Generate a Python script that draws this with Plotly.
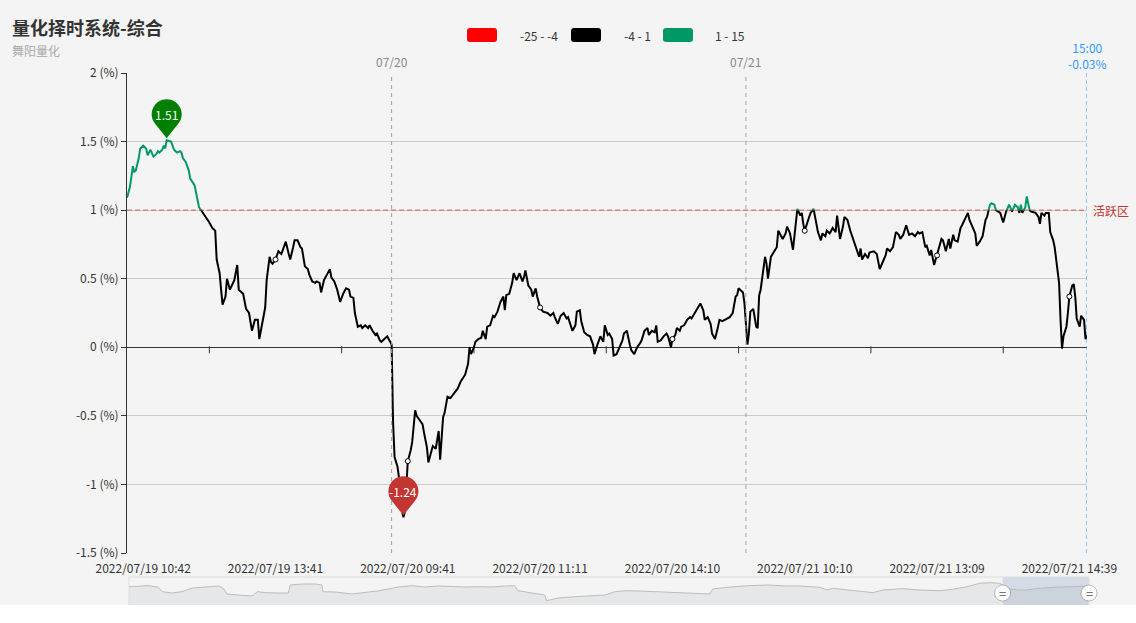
import numpy as np
import plotly.graph_objects as go

# canvas and plot box, in px
W, H = 1136, 623
L, R, T, B = 127, 1087, 73, 553
SL, SR, ST, SB = 129, 1089, 577, 607   # dataZoom slider box

title = "量化择时系统-综合"
subtitle = "舞阳量化"

days = ["2022/07/19", "2022/07/20", "2022/07/21"]
first_bar = "10:31"
last_bar = "14:51"

# score (%) per minute bar
d1_t = ["10:31", "10:33", "10:35", "10:36", "10:37", "10:39", "10:40", "10:42", "10:44", "10:45",
        "10:47", "10:49", "10:51", "10:52", "10:53", "10:55", "10:56", "10:57", "10:58", "11:01",
        "11:03", "11:05", "11:07", "11:08", "11:09", "11:11", "11:13", "11:14", "11:17", "11:18",
        "11:20", "11:22", "11:24", "11:26", "11:27", "11:29", "13:00", "13:01", "13:03", "13:04",
        "13:05", "13:07", "13:08", "13:10", "13:12", "13:13", "13:15", "13:16", "13:19", "13:21",
        "13:23", "13:25", "13:27", "13:29", "13:30", "13:32", "13:34", "13:35", "13:37", "13:38",
        "13:39", "13:41", "13:43", "13:45", "13:47", "13:48", "13:50", "13:51", "13:53", "13:54",
        "13:56", "13:58", "13:59", "14:01", "14:03", "14:04", "14:06", "14:08", "14:09", "14:11",
        "14:12", "14:14", "14:16", "14:18", "14:19", "14:21", "14:23", "14:25", "14:27", "14:29",
        "14:31", "14:32", "14:34", "14:35", "14:37", "14:39", "14:40", "14:42", "14:44", "14:45",
        "14:47", "14:49", "14:50", "14:52", "14:53", "14:55", "14:57", "14:58", "15:00"]
d1_v = [1.09, 1.17, 1.32, 1.28, 1.29, 1.38, 1.45, 1.47, 1.45, 1.40,
        1.44, 1.39, 1.41, 1.43, 1.42, 1.44, 1.47, 1.45, 1.51, 1.50,
        1.44, 1.42, 1.43, 1.42, 1.38, 1.35, 1.29, 1.23, 1.18, 1.12,
        1.02, 0.99, 0.96, 0.93, 0.91, 0.87, 0.85, 0.64, 0.54, 0.42,
        0.31, 0.37, 0.50, 0.42, 0.47, 0.49, 0.60, 0.42, 0.39, 0.28,
        0.25, 0.12, 0.20, 0.20, 0.06, 0.17, 0.29, 0.49, 0.66, 0.62,
        0.61, 0.64, 0.70, 0.68, 0.74, 0.77, 0.68, 0.64, 0.73, 0.78,
        0.78, 0.73, 0.72, 0.59, 0.57, 0.53, 0.48, 0.47, 0.48, 0.47,
        0.40, 0.49, 0.53, 0.57, 0.51, 0.48, 0.42, 0.33, 0.39, 0.43,
        0.42, 0.37, 0.36, 0.25, 0.15, 0.16, 0.14, 0.16, 0.14, 0.16,
        0.12, 0.09, 0.10, 0.05, 0.04, 0.06, 0.08, 0.06, 0.02]

d2_t = ["09:31", "09:32", "09:34", "09:35", "09:36", "09:38", "09:39", "09:40", "09:41", "09:43",
        "09:44", "09:46", "09:47", "09:49", "09:51", "09:52", "09:54", "09:55", "09:57", "09:58",
        "10:00", "10:02", "10:03", "10:05", "10:06", "10:08", "10:10", "10:12", "10:13", "10:15",
        "10:17", "10:18", "10:20", "10:22", "10:23", "10:24", "10:26", "10:27", "10:29", "10:31",
        "10:32", "10:34", "10:35", "10:37", "10:39", "10:40", "10:42", "10:44", "10:46", "10:47",
        "10:48", "10:50", "10:52", "10:53", "10:55", "10:57", "10:59", "11:00", "11:01", "11:03",
        "11:05", "11:06", "11:08", "11:09", "11:11", "11:13", "11:16", "11:18", "11:20", "11:21",
        "11:23", "11:25", "11:27", "11:29", "11:30", "13:02", "13:04", "13:05", "13:07", "13:08",
        "13:10", "13:12", "13:14", "13:16", "13:17", "13:19", "13:21", "13:23", "13:24", "13:26",
        "13:27", "13:29", "13:30", "13:32", "13:34", "13:36", "13:37", "13:39", "13:41", "13:42",
        "13:44", "13:46", "13:48", "13:49", "13:51", "13:53", "13:54", "13:56", "13:58", "13:59",
        "14:00", "14:02", "14:04", "14:06", "14:07", "14:09", "14:10", "14:12", "14:13", "14:15",
        "14:16", "14:18", "14:20", "14:22", "14:23", "14:25", "14:27", "14:29", "14:31", "14:32",
        "14:34", "14:36", "14:37", "14:39", "14:41", "14:42", "14:44", "14:46", "14:47", "14:49",
        "14:51", "14:53", "14:54", "14:55", "14:56", "14:58", "14:59", "15:00"]
d2_v = [-0.55, -0.80, -0.87, -0.95, -1.14, -1.24, -1.20, -0.99, -0.83, -0.75,
        -0.69, -0.46, -0.50, -0.53, -0.56, -0.62, -0.73, -0.84, -0.75, -0.72,
        -0.74, -0.61, -0.82, -0.51, -0.48, -0.36, -0.37, -0.34, -0.33, -0.30,
        -0.25, -0.23, -0.20, -0.12, 0.00, -0.05, 0.00, 0.04, 0.06, 0.07,
        0.12, 0.06, 0.15, 0.16, 0.23, 0.22, 0.26, 0.33, 0.37, 0.27,
        0.38, 0.39, 0.47, 0.54, 0.49, 0.54, 0.48, 0.51, 0.56, 0.45,
        0.42, 0.37, 0.43, 0.37, 0.29, 0.26, 0.25, 0.23, 0.25, 0.22,
        0.17, 0.23, 0.25, 0.21, 0.22, 0.12, 0.16, 0.26, 0.27, 0.19,
        0.11, 0.09, 0.08, 0.02, -0.05, 0.02, 0.08, 0.04, 0.16, 0.09,
        0.10, 0.06, -0.06, -0.05, 0.00, 0.05, 0.10, 0.12, 0.02, -0.02,
        -0.05, 0.00, 0.03, 0.05, 0.12, 0.14, 0.09, 0.12, 0.11, 0.16,
        0.04, 0.05, 0.08, 0.10, 0.08, 0.00, 0.06, 0.09, 0.14, 0.12,
        0.15, 0.16, 0.20, 0.22, 0.21, 0.25, 0.29, 0.32, 0.27, 0.20,
        0.22, 0.17, 0.10, 0.06, 0.15, 0.20, 0.19, 0.20, 0.21, 0.22,
        0.25, 0.37, 0.38, 0.43, 0.42, 0.40, 0.32, 0.15]

d3_t = ["09:31", "09:32", "09:33", "09:35", "09:37", "09:38", "09:39", "09:40", "09:41", "09:43",
        "09:44", "09:45", "09:47", "09:49", "09:51", "09:52", "09:53", "09:55", "09:57", "09:58",
        "10:00", "10:02", "10:03", "10:05", "10:07", "10:08", "10:09", "10:10", "10:13", "10:14",
        "10:16", "10:17", "10:19", "10:21", "10:22", "10:24", "10:25", "10:27", "10:29", "10:31",
        "10:32", "10:34", "10:36", "10:37", "10:39", "10:41", "10:43", "10:45", "10:47", "10:48",
        "10:49", "10:51", "10:53", "10:54", "10:57", "10:59", "11:01", "11:03", "11:05", "11:06",
        "11:08", "11:10", "11:12", "11:14", "11:15", "11:17", "11:19", "11:21", "11:23", "11:25",
        "11:27", "11:28", "11:30", "13:01", "13:02", "13:04", "13:05", "13:07", "13:08", "13:09",
        "13:12", "13:13", "13:15", "13:17", "13:18", "13:20", "13:21", "13:23", "13:25", "13:26",
        "13:28", "13:30", "13:31", "13:33", "13:35", "13:36", "13:38", "13:40", "13:42", "13:43",
        "13:45", "13:46", "13:48", "13:49", "13:51", "13:52", "13:54", "13:56", "13:58", "13:59",
        "14:00", "14:02", "14:04", "14:05", "14:06", "14:07", "14:09", "14:10", "14:12", "14:13",
        "14:15", "14:16", "14:18", "14:19", "14:20", "14:22", "14:23", "14:25", "14:26", "14:28",
        "14:29", "14:30", "14:32", "14:33", "14:34", "14:35", "14:37", "14:38", "14:39", "14:41",
        "14:42", "14:43", "14:44", "14:46", "14:47", "14:49", "14:50", "14:51"]
d3_v = [0.02, 0.10, 0.26, 0.28, 0.15, 0.14, 0.38, 0.42, 0.51, 0.66,
        0.61, 0.50, 0.66, 0.70, 0.73, 0.85, 0.83, 0.79, 0.83, 0.88,
        0.83, 0.71, 0.81, 1.01, 0.96, 0.98, 0.90, 0.85, 0.95, 0.98,
        1.01, 0.95, 0.84, 0.78, 0.83, 0.81, 0.85, 0.83, 0.87, 0.84,
        0.96, 0.79, 0.88, 0.95, 0.93, 0.85, 0.79, 0.73, 0.66, 0.72,
        0.64, 0.68, 0.65, 0.69, 0.70, 0.68, 0.57, 0.62, 0.67, 0.72,
        0.70, 0.73, 0.84, 0.82, 0.79, 0.82, 0.89, 0.82, 0.83, 0.81,
        0.84, 0.83, 0.84, 0.73, 0.74, 0.67, 0.71, 0.60, 0.64, 0.67,
        0.79, 0.78, 0.70, 0.79, 0.72, 0.82, 0.78, 0.77, 0.87, 0.89,
        0.94, 0.98, 0.93, 0.88, 0.83, 0.74, 0.77, 0.81, 0.93, 0.95,
        1.04, 1.05, 1.04, 1.00, 0.99, 0.98, 0.91, 0.99, 1.04, 1.02,
        0.99, 1.04, 1.02, 0.98, 1.04, 0.98, 1.02, 1.10, 1.00, 0.99,
        0.98, 0.98, 0.95, 0.90, 0.98, 0.96, 0.98, 0.98, 0.84, 0.78,
        0.73, 0.64, 0.47, 0.20, -0.01, 0.08, 0.15, 0.25, 0.37, 0.45,
        0.46, 0.37, 0.21, 0.15, 0.23, 0.20, 0.06, 0.09]

x_labels = ["2022/07/19 10:42", "2022/07/19 13:41", "2022/07/20 09:41", "2022/07/20 11:11",
            "2022/07/20 14:10", "2022/07/21 10:10", "2022/07/21 13:09", "2022/07/21 14:39"]
y_ticks = [-1.5, -1, -0.5, 0, 0.5, 1, 1.5, 2]

# visualMap pieces (value range -> line colour)
piece_lo = [-25, -4, 1]
piece_hi = [-4, 1, 15]
piece_col = ["#ff0000", "#000000", "#009966"]

active_level = 1
active_text = "活跃区"
close_time = "15:00"
close_pct = -0.03

# dataZoom overview series (position in % of full range, height)
ov_pos = [0, 0.9, 2.0, 3.0, 3.5, 4.5, 5.5, 6.6, 7.9, 9.3, 9.8, 10.2, 11.4, 12.8, 13.4, 14.2,
          15.5, 16.6, 16.8, 18.0, 19.4, 20.1, 20.2, 21.5, 23.2, 24.6, 25.9, 27.0, 28.0, 29.5,
          30.8, 32.2, 33.6, 35.0, 36.4, 37.8, 39.2, 40.2, 40.5, 42.0, 43.3, 43.5, 44.7, 46.5,
          48.2, 49.6, 50.6, 51.7, 53.2, 55.3, 57.4, 59.5, 60.5, 60.8, 62.3, 64.4, 66.5, 68.5,
          69.9, 72.0, 72.7, 73.3, 75.4, 77.5, 78.5, 80.6, 82.4, 84.5, 85.8, 87.3, 88.6, 89.7,
          90.7, 91.5, 92.5, 93.5, 94.9, 96.3, 98.3, 100]
ov_val = [20.3, 21.0, 21.3, 20.0, 15.3, 14.0, 15.3, 19.0, 20.3, 21.0, 19.0, 13.0, 12.0, 11.0, 15.3, 14.3,
          14.0, 14.0, 22.0, 23.0, 23.0, 22.0, 15.3, 15.0, 13.0, 14.3, 16.0, 18.0, 20.0, 21.3,
          20.0, 21.0, 20.3, 20.0, 20.3, 20.0, 21.0, 21.3, 16.3, 14.3, 12.0, 6.3, 9.0, 10.3,
          11.0, 12.0, 15.3, 16.3, 16.0, 15.3, 14.3, 14.0, 13.0, 18.0, 19.7, 21.3, 22.0, 21.0,
          21.0, 19.7, 17.0, 18.7, 16.3, 14.3, 17.0, 18.3, 17.0, 16.3, 17.7, 20.3, 23.7, 24.3,
          23.7, 18.7, 17.0, 17.0, 18.7, 19.7, 20.3, 21.0]
zoom_start, zoom_end = 91, 100

FONT = "Noto Sans CJK SC, Noto Sans, sans-serif"


def hm(s):
    h, m = s.split(":")
    return int(h) * 60 + int(m)


def fx(px):
    return px / W


def fy(py):
    return 1 - py / H


# minute bars of an A-share session, used as the category axis
session = list(range(hm("09:31"), hm("11:30") + 1)) + list(range(hm("13:00"), hm("15:00") + 1))
slots = []
for i, day in enumerate(days):
    lo = hm(first_bar) if i == 0 else hm("09:31")
    hi = hm(last_bar) if i == len(days) - 1 else hm("15:00")
    slots += [f"{day} {m // 60:02d}:{m % 60:02d}" for m in session if lo <= m <= hi]
slot = {s: i for i, s in enumerate(slots)}

xs, ys = [], []
for day, tt, vv in zip(days, [d1_t, d2_t, d3_t], [d1_v, d2_v, d3_v]):
    xs += [slot[f"{day} {t}"] for t in tt]
    ys += vv
xs = np.array(xs)
ys = np.array(ys)
val_at = dict(zip(xs.tolist(), ys.tolist()))

y_lo, y_hi = y_ticks[0], y_ticks[-1]
px_per_unit = (B - T) / (y_hi - y_lo)


def ydom(v):
    return fy(B) + (v - y_lo) / (y_hi - y_lo) * (fy(T) - fy(B))


def colour_of(v):
    for lo, hi, c in zip(piece_lo, piece_hi, piece_col):
        if lo <= v <= hi:
            return c
    return piece_col[-1]


tickvals = [slot[s] for s in x_labels]
minor_ticks = [(a + b) / 2 for a, b in zip(tickvals[:-1], tickvals[1:])]

traces = []

# small ticks hanging under the zero axis
traces.append(go.Scatter(x=minor_ticks, y=[-2.5 / px_per_unit] * len(minor_ticks), mode="markers",
                         marker=dict(symbol="line-ns", size=5, line=dict(color="#333", width=1)),
                         hoverinfo="skip", xaxis="x", yaxis="y"))

# the line, coloured per visualMap piece: each copy is clipped to its own band
traces.append(go.Scatter(x=xs, y=ys, mode="lines", line=dict(color=piece_col[2], width=2),
                         xaxis="x", yaxis="y2", hoverinfo="skip"))
traces.append(go.Scatter(x=xs, y=ys, mode="lines", line=dict(color=piece_col[1], width=2),
                         xaxis="x", yaxis="y3", hoverinfo="skip"))

# symbols shown at the label interval
sym_y = [val_at[v] for v in tickvals]
traces.append(go.Scatter(x=tickvals, y=sym_y, mode="markers", cliponaxis=False,
                         marker=dict(symbol="circle", size=5, color="#ffffff",
                                     line=dict(color=[colour_of(v) for v in sym_y], width=1)),
                         xaxis="x", yaxis="y3", hoverinfo="skip"))

# dataZoom overview
traces.append(go.Scatter(x=ov_pos, y=ov_val, mode="lines", fill="tozeroy",
                         fillcolor="rgba(47,69,84,0.07)", line=dict(color="#bdbdbd", width=1),
                         xaxis="x2", yaxis="y4", hoverinfo="skip"))

fig = go.Figure(traces)


def pin_path(r=15.0, h=24.0, lift=2.0, n=4):
    # teardrop: tip at (0, lift), circle of radius r centred h px above the tip
    a = np.arccos(r / h)
    start = -np.pi / 2 + a
    step = (2 * np.pi - 2 * a) / n
    k = 4 / 3 * np.tan(step / 4)
    cy = lift + h
    p = (r * np.cos(start), cy + r * np.sin(start))
    path = f"M 0,{lift:.2f} L {p[0]:.2f},{p[1]:.2f}"
    for i in range(n):
        t0 = start + i * step
        t1 = t0 + step
        p0 = (r * np.cos(t0), cy + r * np.sin(t0))
        p3 = (r * np.cos(t1), cy + r * np.sin(t1))
        c1 = (p0[0] - k * r * np.sin(t0), p0[1] + k * r * np.cos(t0))
        c2 = (p3[0] + k * r * np.sin(t1), p3[1] - k * r * np.cos(t1))
        path += f" C {c1[0]:.2f},{c1[1]:.2f} {c2[0]:.2f},{c2[1]:.2f} {p3[0]:.2f},{p3[1]:.2f}"
    return path + " Z"


def rrect(x0, y0, x1, y1, r):
    pts = [(x0 + r, y0), (x1 - r, y0), (x1, y0), (x1, y0 + r), (x1, y1 - r), (x1, y1),
           (x1 - r, y1), (x0 + r, y1), (x0, y1), (x0, y1 - r), (x0, y0 + r), (x0, y0), (x0 + r, y0)]
    q = [f"{fx(a):.5f},{fy(b):.5f}" for a, b in pts]
    return (f"M {q[0]} L {q[1]} Q {q[2]} {q[3]} L {q[4]} Q {q[5]} {q[6]} L {q[7]} "
            f"Q {q[8]} {q[9]} L {q[10]} Q {q[11]} {q[12]} Z")


shapes = []
annotations = []

# active zone markLine
shapes.append(dict(type="line", xref="paper", yref="y", x0=fx(L), x1=fx(R), y0=active_level, y1=active_level,
                   line=dict(color="rgba(194,53,49,0.75)", width=1, dash="5px,3px")))
annotations.append(dict(x=fx(R + 4), y=active_level, xref="paper", yref="y",
                        text=active_text, showarrow=False, xanchor="left", yanchor="middle",
                        font=dict(color="#c23531", size=12)))

# day separators
for i in range(1, len(days)):
    xd = slot[f"{days[i - 1]} 15:00"]
    shapes.append(dict(type="line", xref="x", yref="paper", x0=xd, x1=xd, y0=fy(B), y1=fy(T),
                       line=dict(color="#a0a0a0", width=1, dash="4px,4px")))
    annotations.append(dict(x=xd, y=fy(61), xref="x", yref="paper", text=days[i][5:], showarrow=False,
                            xanchor="center", yanchor="middle", font=dict(color="#888", size=12)))

# last bar line
xe = len(slots) - 1
shapes.append(dict(type="line", xref="x", yref="paper", x0=xe, x1=xe, y0=fy(B), y1=fy(T),
                   line=dict(color="#3399ff", width=1, dash="4px,3px")))
annotations.append(dict(x=xe, y=fy(55.5), xref="x", yref="paper",
                        text=f"{close_time}<br>{close_pct:.2f}%", showarrow=False,
                        xanchor="center", yanchor="middle", font=dict(color="#3399ff", size=12)))

# max / min pins
for idx, col in [(int(np.argmax(ys)), "#008000"), (int(np.argmin(ys)), "#c23531")]:
    shapes.append(dict(type="path", xref="x", yref="y", xsizemode="pixel", ysizemode="pixel",
                       xanchor=int(xs[idx]), yanchor=float(ys[idx]), path=pin_path(),
                       fillcolor=col, line=dict(width=0)))
    annotations.append(dict(x=int(xs[idx]), y=float(ys[idx]), xref="x", yref="y", yshift=26,
                            text=f"{ys[idx]:.2f}", showarrow=False, xanchor="center", yanchor="middle",
                            font=dict(color="#ffffff", size=12)))

# visualMap legend
legend_icon_x = [467, 571, 663]
legend_text_x = [518, 622, 713]
for lo, hi, c, ix, tx in zip(piece_lo, piece_hi, piece_col, legend_icon_x, legend_text_x):
    shapes.append(dict(type="path", xref="paper", yref="paper", path=rrect(ix, 28, ix + 30, 42, 3),
                       fillcolor=c, line=dict(width=0)))
    annotations.append(dict(x=fx(tx), y=fy(35), xref="paper", yref="paper", text=f"{lo} - {hi}",
                            showarrow=False, xanchor="left", yanchor="middle", font=dict(color="#333", size=12)))

# title
annotations.append(dict(x=fx(10), y=fy(27), xref="paper", yref="paper", text=f"<b>{title}</b>",
                        showarrow=False, xanchor="left", yanchor="middle", font=dict(color="#333", size=18)))
annotations.append(dict(x=fx(10), y=fy(51), xref="paper", yref="paper", text=subtitle,
                        showarrow=False, xanchor="left", yanchor="middle", font=dict(color="#aaa", size=12)))

# dataZoom slider
shapes.append(dict(type="rect", xref="x2", yref="paper", x0=zoom_start, x1=zoom_end, y0=fy(SB), y1=fy(ST),
                   fillcolor="rgba(167,183,204,0.4)", line=dict(width=0), layer="above"))
shapes.append(dict(type="rect", xref="paper", yref="paper", x0=fx(SL), x1=fx(SR), y0=fy(SB), y1=fy(ST),
                   line=dict(color="#dddddd", width=1)))
for p in (zoom_start, zoom_end):
    hx = fx(SL + p / 100 * (SR - SL))
    shapes.append(dict(type="line", xref="paper", yref="paper", x0=hx, x1=hx, y0=fy(SB), y1=fy(ST + 6),
                       line=dict(color="#e8e8e8", width=1)))
    shapes.append(dict(type="circle", xref="paper", yref="paper", xsizemode="pixel", ysizemode="pixel",
                       xanchor=hx, yanchor=fy(593), x0=-8, x1=8, y0=-8, y1=8,
                       fillcolor="#ffffff", line=dict(color="rgba(0,0,0,0.25)", width=1)))
    annotations.append(dict(x=hx, y=fy(593), xref="paper", yref="paper", text="=", showarrow=False,
                            xanchor="center", yanchor="middle", font=dict(color="#555", size=13)))

# page below the chart
shapes.append(dict(type="rect", xref="paper", yref="paper", x0=0, x1=1, y0=0, y1=fy(605),
                   fillcolor="#ffffff", line=dict(width=0), layer="above"))

fig.update_layout(
    width=W, height=H,
    margin=dict(l=0, r=0, t=0, b=0, pad=0, autoexpand=False),
    paper_bgcolor="#f4f4f4",
    plot_bgcolor="rgba(0,0,0,0)",
    font=dict(family=FONT, size=12, color="#333"),
    showlegend=False,
    hovermode=False,
    xaxis=dict(domain=[fx(L), fx(R)], range=[0, len(slots) - 1], anchor="y", automargin=False,
               tickmode="array", tickvals=tickvals, ticktext=x_labels, ticks="",
               ticklabelstandoff=7,
               showgrid=False, zeroline=False, showline=False,
               tickfont=dict(size=12, color="#333"), fixedrange=True),
    yaxis=dict(domain=[fy(B), fy(T)], range=[y_lo, y_hi], anchor="x", automargin=False,
               tickmode="array", tickvals=y_ticks, ticktext=[f"{v:g} (%)" for v in y_ticks],
               ticks="outside", ticklen=5, tickcolor="#333",
               showline=True, linecolor="#333", linewidth=1,
               showgrid=True, gridcolor="#cccccc", gridwidth=1,
               zeroline=True, zerolinecolor="#333", zerolinewidth=1,
               tickfont=dict(size=12, color="#333"), fixedrange=True),
    yaxis2=dict(domain=[ydom(active_level), fy(T)], range=[active_level, y_hi], anchor="x",
                visible=False, automargin=False),
    yaxis3=dict(domain=[fy(B), ydom(active_level)], range=[y_lo, active_level], anchor="x",
                visible=False, automargin=False),
    xaxis2=dict(domain=[fx(SL), fx(SR)], range=[0, 100], anchor="y4", visible=False, automargin=False),
    yaxis4=dict(domain=[fy(SB), fy(ST)], range=[0, 30], anchor="x2", visible=False, automargin=False),
    shapes=shapes,
    annotations=annotations,
)

fig.write_html("out.html", config={"responsive": False, "displayModeBar": False},
               post_script="document.body.style.margin='0';document.body.style.overflow='hidden';")
